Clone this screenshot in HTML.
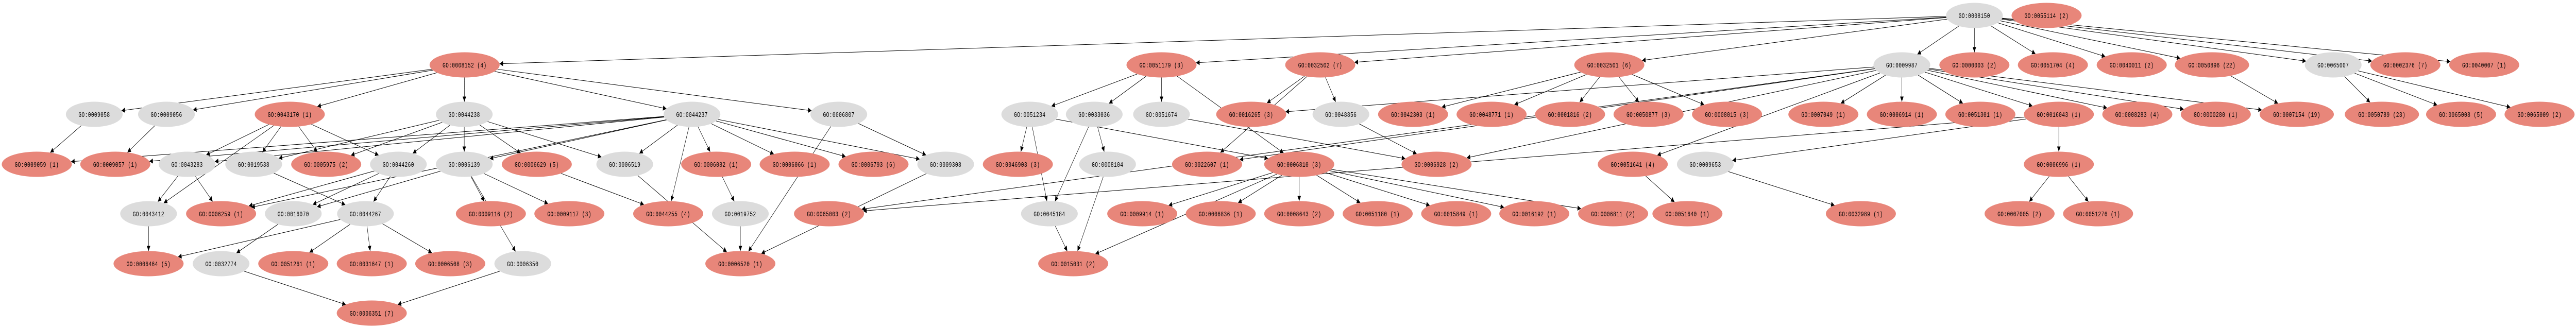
<!DOCTYPE html>
<html><head><meta charset="utf-8">
<style>
html,body{margin:0;padding:0;background:#fff;width:100%;height:100%;overflow:hidden;}
svg{display:block;width:100vw;height:100vh;}
text{font-family:"Liberation Mono","DejaVu Sans Mono",monospace;font-size:14px;letter-spacing:0.6px;fill:#000;}
</style></head>
<body>
<svg id="g" viewBox="0 0 7352 635" preserveAspectRatio="none" xmlns="http://www.w3.org/2000/svg">
<defs><marker id="ah" viewBox="0 0 10 10" refX="10" refY="5" markerWidth="12" markerHeight="10" markerUnits="userSpaceOnUse" orient="auto"><path d="M0,0 L10,5 L0,10 z" fill="#000"/></marker></defs>
<g id="edges"></g><g id="nodes"></g>
</svg>
<script>
var R=[30,126,222,319,415,512,608];
var N={
"0008150":[5635,0,"g"],"0055114":[5841,0,"r","(2)"],
"0008152":[1326,1,"r","(4)"],"0051179":[3315,1,"r","(3)"],"0032502":[3768,1,"r","(7)"],"0032501":[4593,1,"r","(6)"],
"0009987":[5428,1,"g"],"0000003":[5635,1,"r","(2)"],"0051704":[5859,1,"r","(4)"],"0040011":[6084,1,"r","(2)"],
"0050896":[6313,1,"r","(22)"],"0065007":[6659,1,"g"],"0002376":[6865,1,"r","(7)"],"0040007":[7090,1,"r","(1)"],
"0009058":[269,2,"g"],"0009056":[475,2,"g"],"0043170":[827,2,"r","(1)"],"0044238":[1325,2,"g"],"0044237":[1975,2,"g"],
"0006807":[2394,2,"g"],"0051234":[2939,2,"g"],"0033036":[3123,2,"g"],"0051674":[3315,2,"g"],"0016265":[3571,2,"r","(3)"],
"0048856":[3827,2,"g"],"0042303":[4033,2,"r","(1)"],"0048771":[4257,2,"r","(1)"],"0001816":[4481,2,"r","(2)"],
"0050877":[4705,2,"r","(3)"],"0008015":[4929,2,"r","(3)"],"0007049":[5204,2,"r","(1)"],"0006914":[5428,2,"r","(1)"],
"0051301":[5652,2,"r","(1)"],"0016043":[5876,2,"r","(1)"],"0008283":[6100,2,"r","(4)"],"0000280":[6324,2,"r","(1)"],
"0007154":[6555,2,"r","(19)"],"0050789":[6798,2,"r","(23)"],"0065008":[7024,2,"r","(5)"],"0065009":[7248,2,"r","(2)"],
"0009059":[105,3,"r","(1)"],"0009057":[329,3,"r","(1)"],"0043283":[534,3,"g"],"0019538":[724,3,"g"],"0005975":[931,3,"r","(2)"],
"0044260":[1137,3,"g"],"0006139":[1325,3,"g"],"0006629":[1532,3,"r","(5)"],"0006519":[1783,3,"g"],"0006082":[2044,3,"r","(1)"],
"0006066":[2268,3,"r","(1)"],"0006793":[2493,3,"r","(6)"],"0009308":[2699,3,"g"],"0046903":[2905,3,"r","(3)"],
"0008104":[3161,3,"g"],"0022607":[3445,3,"r","(1)"],"0006810":[3708,3,"r","(3)"],"0006928":[4100,3,"r","(2)"],
"0051641":[4660,3,"r","(4)"],"0009653":[4867,3,"g"],"0006996":[5876,3,"r","(1)"],
"0043412":[424,4,"g"],"0006259":[631,4,"r","(1)"],"0016070":[837,4,"g"],"0044267":[1043,4,"g"],"0009116":[1401,4,"r","(2)"],
"0009117":[1625,4,"r","(3)"],"0044255":[1907,4,"r","(4)"],"0019752":[2113,4,"g"],"0065003":[2366,4,"r","(2)"],
"0045184":[2995,4,"g"],"0009914":[3260,4,"r","(1)"],"0006836":[3484,4,"r","(1)"],"0008643":[3708,4,"r","(2)"],
"0051180":[3932,4,"r","(1)"],"0015849":[4156,4,"r","(1)"],"0016192":[4379,4,"r","(1)"],"0006811":[4604,4,"r","(2)"],
"0051640":[4816,4,"r","(1)"],"0032989":[5311,4,"r","(1)"],"0007005":[5764,4,"r","(2)"],"0051276":[5988,4,"r","(1)"],
"0006464":[424,5,"r","(5)"],"0032774":[631,5,"g"],"0051261":[837,5,"r","(1)"],"0031647":[1061,5,"r","(1)"],
"0006508":[1285,5,"r","(3)"],"0006350":[1492,5,"g"],"0006520":[2113,5,"r","(1)"],"0015031":[3063,5,"r","(2)"],
"0006351":[1061,6,"r","(7)"]
};
var E={
"0008150":["0008152","0051179","0032502","0032501","0009987","0000003","0051704","0040011","0050896","0065007","0002376","0040007"],
"0008152":["0009058","0009056","0043170","0044238","0044237","0006807"],
"0009058":["0009059"],"0009056":["0009057"],
"0044237":["0009059","0009057","0043283","0006139","0044255","0006082","0006066","0006793","0009308","0006519","0006259"],
"0043170":["0019538","0005975","0044260","0043283","0043412"],
"0043283":["0043412","0006259"],"0043412":["0006464"],
"0019538":["0044267"],"0044260":["0044267","0016070","0006259"],"0016070":["0032774"],
"0044267":["0006464","0051261","0031647","0006508"],
"0032774":["0006351"],"0006350":["0006351"],
"0044238":["0006139","0006629","0006519","0044260","0019538","0005975"],
"0006139":["0009116","0009117","0006350","0016070"],
"0006629":["0044255"],"0006519":["0006520"],"0006082":["0019752"],"0019752":["0006520"],
"0006807":["0009308","0006520"],"0009308":["0006520"],
"0051179":["0033036","0051674","0051234","0006810"],
"0051234":["0046903","0045184","0006810"],"0033036":["0008104","0045184"],"0008104":["0015031"],"0045184":["0015031"],
"0006810":["0009914","0006836","0008643","0051180","0015849","0016192","0006811","0015031"],
"0032502":["0048856","0016265","0022607"],"0048856":["0006928"],
"0032501":["0042303","0001816","0050877","0008015","0048771"],
"0009987":["0007049","0006914","0016043","0051301","0008283","0000280","0007154","0065003","0022607","0051641","0016265","0006928"],
"0051641":["0051640"],"0009653":["0032989"],"0016043":["0006996","0065003","0009653"],
"0006996":["0007005","0051276"],"0065007":["0050789","0065008","0065009"],"0050896":["0007154"],"0051674":["0006928"]
};
var ns="http://www.w3.org/2000/svg",RY=24.5;
function rx(n){return n[2]=="g"?81:(n[3]&&n[3].length>3?106:100);}
function bnd(n,dx,dy){var a=rx(n),t=1/Math.sqrt(dx*dx/(a*a)+dy*dy/(RY*RY));return [n[0]+dx*t,R[n[1]]+dy*t];}
var eg=document.getElementById("edges"),ng=document.getElementById("nodes");
for(var p in E){E[p].forEach(function(c){var a=N[p],b=N[c];if(!a||!b)return;
var dx=b[0]-a[0],dy=R[b[1]]-R[a[1]];var s=bnd(a,dx,dy),e=bnd(b,-dx,-dy);
var l=document.createElementNS(ns,"line");l.setAttribute("x1",s[0]);l.setAttribute("y1",s[1]);l.setAttribute("x2",e[0]);l.setAttribute("y2",e[1]);
l.setAttribute("stroke","#000");l.setAttribute("stroke-width","1");l.setAttribute("marker-end","url(#ah)");eg.appendChild(l);});}
for(var k in N){var n=N[k];var el=document.createElementNS(ns,"ellipse");el.setAttribute("cx",n[0]);el.setAttribute("cy",R[n[1]]);
el.setAttribute("rx",rx(n));el.setAttribute("ry",RY);el.setAttribute("fill",n[2]=="g"?"#dcdcdc":"#e8867a");ng.appendChild(el);
var t=document.createElementNS(ns,"text");t.setAttribute("x",n[0]);t.setAttribute("y",R[n[1]]+5);t.setAttribute("text-anchor","middle");
t.textContent="GO:"+k+(n[3]?" "+n[3]:"");ng.appendChild(t);}
</script>
</body></html>
